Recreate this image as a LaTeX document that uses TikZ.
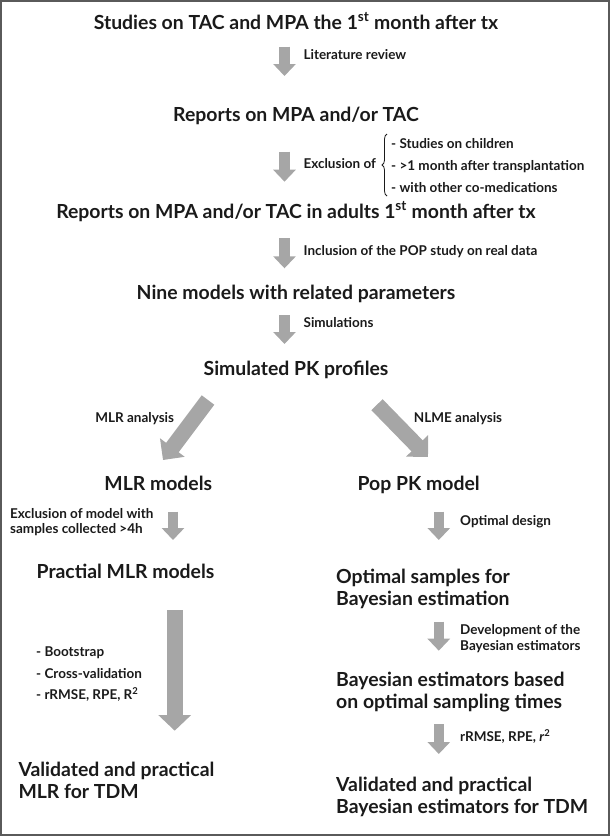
\documentclass[tikz,border=0pt]{standalone}
\usepackage{fontspec}
\setmainfont{Lato}
\usepackage{tikz}
\usetikzlibrary{arrows.meta,decorations.pathreplacing}
\definecolor{flowgray}{HTML}{A6A6A6}
\definecolor{framegray}{HTML}{5A5A5A}
\definecolor{ink}{HTML}{1A1A1A}

\begin{document}
\begin{tikzpicture}[x=1pt,y=-1pt,
  box/.style={font=\bfseries\fontsize{19.4}{21.7}\selectfont, text=ink, inner sep=0pt, anchor=base, align=left},
  boxl/.style={box, anchor=base west},
  note/.style={font=\bfseries\fontsize{13.5}{15.7}\selectfont, text=ink, inner sep=0pt, anchor=base west, align=left},
  flow/.style={color=flowgray, line width=10.5pt, -{Triangle[width=22pt,length=12pt]}},
  bigflow/.style={color=flowgray, line width=15.7pt, -{Triangle[width=30pt,length=15.6pt]}},
  longflow/.style={color=flowgray, line width=16pt, -{Triangle[width=32pt,length=15.7pt]}}]
\useasboundingbox (0,0) rectangle (610,836);
\draw[framegray, line width=2pt] (1,1) rectangle (609,835);

% main column
\node[box] (q_0) at (296,29.3) {Studies on TAC and MPA the 1\textsuperscript{st} month after tx};
\node[note] (q_1) at (303.4,59.7) {Literature review};
\node[box] (q_2) at (296,121.7) {Reports on MPA and/or TAC};
\node[note] (q_3) at (303.4,168) {Exclusion of};
\node[note, font=\bfseries\fontsize{13.5}{22.2}\selectfont] (q_4) at (391,192.4)
  {- Studies on children\\- >1 month after transplantation\\- with other co-medications};
\node[box] (q_5) at (296,218.4) {Reports on MPA and/or TAC in adults 1\textsuperscript{st} month after tx};
\node[note] (q_6) at (303.4,255.7) {Inclusion of the POP study on real data};
\node[box] (q_7) at (296,299.4) {Nine models with related parameters};
\node[note] (q_8) at (303.4,327.4) {Simulations};
\node[box] (q_9) at (296,375) {Simulated PK profiles};

% left branch
\node[note, anchor=base] (l_0) at (134.7,422.4) {MLR analysis};
\node[box] (l_1) at (158.3,490) {MLR models};
\node[note] (l_2) at (10,533.7) {Exclusion of model with\\samples collected >4h};
\node[box] (l_3) at (125.5,578.4) {Practial MLR models};
\node[note, font=\bfseries\fontsize{13.5}{21.6}\selectfont] (l_4) at (36,699.7)
  {- Bootstrap\\- Cross-validation\\- rRMSE, RPE, R\textsuperscript{2}};
\node[boxl] (l_5) at (18.3,798.4) {Validated and practical\\MLR for TDM};

% right branch
\node[note, anchor=base] (r_0) at (458,422.4) {NLME analysis};
\node[box] (r_1) at (418.7,490) {Pop PK model};
\node[note] (r_2) at (460,525.4) {Optimal design};
\node[boxl] (r_3) at (336,605) {Optimal samples for\\Bayesian estimation};
\node[note] (r_4) at (460,650.4) {Development of the\\Bayesian estimators};
\node[boxl] (r_5) at (336,708.4) {Bayesian estimators based\\on optimal sampling times};
\node[note] (r_6) at (460,741.4) {rRMSE, RPE, \textit{r}\textsuperscript{2}};
\node[boxl] (r_7) at (336,813.4) {Validated and practical\\Bayesian estimators for TDM};

\draw[ink, line width=0.8pt, decorate, decoration={brace, amplitude=5pt}]
  (387,196) -- (387,134);

\coordinate (a_0) at (284.5,46.7);  \coordinate (a_1) at (284.5,76);
\coordinate (a_2) at (284.5,151.7); \coordinate (a_3) at (284.5,181.7);
\coordinate (a_4) at (284.5,238.3); \coordinate (a_5) at (284.5,268.3);
\coordinate (a_6) at (284.5,315);   \coordinate (a_7) at (284.5,344);
\coordinate (b_0) at (208,400);     \coordinate (b_1) at (163,460);
\coordinate (b_2) at (377,404.7);   \coordinate (b_3) at (428,457);
\coordinate (b_4) at (173,511.7);   \coordinate (b_5) at (173,540);
\coordinate (b_6) at (174.7,610);   \coordinate (b_7) at (174.7,730.7);
\coordinate (c_0) at (438.8,511.7); \coordinate (c_1) at (438.8,540);
\coordinate (c_2) at (438.8,621.7); \coordinate (c_3) at (438.8,650.7);
\coordinate (c_4) at (438.8,724.3); \coordinate (c_5) at (438.8,754);

\draw[flow] (a_0) -- (a_1);
\draw[flow] (a_2) -- (a_3);
\draw[flow] (a_4) -- (a_5);
\draw[flow] (a_6) -- (a_7);
\draw[flow] (b_4) -- (b_5);
\draw[flow] (c_0) -- (c_1);
\draw[flow] (c_2) -- (c_3);
\draw[flow] (c_4) -- (c_5);
\draw[bigflow] (b_0) -- (b_1);
\draw[bigflow] (b_2) -- (b_3);
\draw[longflow] (b_6) -- (b_7);
\end{tikzpicture}
\end{document}
